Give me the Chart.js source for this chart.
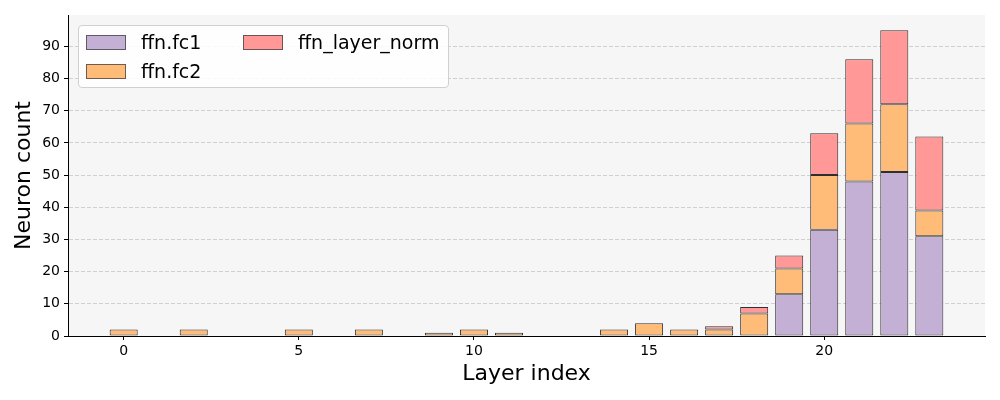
<!DOCTYPE html>
<html lang="en">
    <head>
        <meta charset="UTF-8" />
        <title>Neuron count per layer</title>
        <script src="https://cdn.jsdelivr.net/npm/chart.js"></script>
        <style>
            body { margin: 0; background: #fff; }
            #wrap { position: relative; width: 1000px; height: 400px; }
            #legend {
                position: absolute; left: 78px; top: 25px; width: 369px; height: 61px;
                background: rgba(255, 255, 255, 0.85); border: 1px solid #d0d0d0; border-radius: 4px;
                font-family: "DejaVu Sans", sans-serif; font-size: 19px; color: #000;
            }
            .item { position: absolute; white-space: nowrap; line-height: 22px; }
            .sw { position: absolute; width: 38px; height: 13px; border: 1px solid rgba(60, 60, 60, 0.75); }
        </style>
    </head>
    <body>
        <div id="wrap">
            <canvas id="myChart" width="1000" height="400"></canvas>
            <div id="legend"></div>
        </div>
        <script>
            const layers = [0, 1, 2, 3, 4, 5, 6, 7, 8, 9, 10, 11, 12, 13, 14, 15, 16, 17, 18, 19, 20, 21, 22, 23];
            const fc1 = [0, 0, 0, 0, 0, 0, 0, 0, 0, 0, 0, 0, 0, 0, 0, 0, 0, 0, 0, 13, 33, 48, 51, 31];
            const fc2 = [2, 0, 2, 0, 0, 2, 0, 2, 0, 1, 2, 1, 0, 0, 2, 4, 2, 2, 7, 8, 17, 18, 21, 8];
            const layerNorm = [0, 0, 0, 0, 0, 0, 0, 0, 0, 0, 0, 0, 0, 0, 0, 0, 0, 1, 2, 4, 13, 20, 23, 23];
            const xTicks = [0, 5, 10, 15, 20];
            const yTicks = [0, 10, 20, 30, 40, 50, 60, 70, 80, 90];

            const seriesNames = ["ffn.fc1", "ffn.fc2", "ffn_layer_norm"];
            const seriesColors = ["#c5b0d5", "#ffbb78", "#ff9896"];
            const edge = "rgba(25, 25, 25, 0.9)";
            const font = "'DejaVu Sans', sans-serif";

            function toPoints(values) {
                // zero-height bars are not drawn
                return layers.map((l, i) => ({ x: l, y: values[i] ? values[i] : null }));
            }

            const datasets = [fc1, fc2, layerNorm].map((vals, i) => ({
                label: seriesNames[i],
                data: toPoints(vals),
                backgroundColor: seriesColors[i],
                borderColor: edge,
                borderWidth: 1,
                borderSkipped: false,
                barPercentage: 1,
                categoryPercentage: 0.8,
            }));

            const plotBg = {
                id: "plotBg",
                beforeDraw(chart) {
                    const a = chart.chartArea;
                    const ctx = chart.ctx;
                    ctx.save();
                    ctx.fillStyle = "#f6f6f6";
                    ctx.fillRect(a.left, a.top, a.right - a.left, a.bottom - a.top);
                    ctx.restore();
                },
            };

            const config = {
                type: "bar",
                data: { datasets: datasets },
                plugins: [plotBg],
                options: {
                    responsive: false,
                    animation: false,
                    layout: { padding: { top: 15, right: 15, left: 0, bottom: 0 } },
                    plugins: { legend: { display: false }, tooltip: { enabled: false } },
                    scales: {
                        x: {
                            type: "linear",
                            stacked: true,
                            min: -1.59,
                            max: 24.59,
                            offset: false,
                            afterBuildTicks(scale) {
                                scale.ticks = xTicks.map((v) => ({ value: v }));
                            },
                            afterFit(scale) { scale.height = 64; },
                            grid: { offset: false, drawOnChartArea: false, tickColor: "#000", tickLength: 4, tickWidth: 1 },
                            border: { color: "#000", width: 1 },
                            ticks: { color: "#000", font: { family: font, size: 14 }, padding: 3, maxRotation: 0 },
                            title: {
                                display: true, text: "Layer index", color: "#000",
                                font: { family: font, size: 22 }, padding: { top: 0, bottom: 13 },
                            },
                        },
                        y: {
                            stacked: true,
                            min: 0,
                            max: 99.75,
                            afterBuildTicks(scale) {
                                scale.ticks = yTicks.map((v) => ({ value: v }));
                            },
                            afterFit(scale) { scale.width = 68; },
                            grid: {
                                color: "rgba(185, 185, 185, 0.75)", lineWidth: 0.8,
                                tickColor: "#000", tickLength: 4, tickWidth: 1, tickBorderDash: [],
                            },
                            border: { color: "#000", width: 1, dash: [4, 2] },
                            ticks: { color: "#000", font: { family: font, size: 14 }, padding: 4 },
                            title: {
                                display: true, text: "Neuron count", color: "#000",
                                font: { family: font, size: 22 }, padding: { top: 11, bottom: 0 },
                            },
                        },
                    },
                },
            };

            function buildLegend() {
                const box = document.getElementById("legend");
                const spots = [[7, 8], [7, 37], [164, 8]];
                seriesNames.forEach((name, i) => {
                    const sw = document.createElement("div");
                    sw.className = "sw";
                    sw.style.left = spots[i][0] + "px";
                    sw.style.top = spots[i][1] + 1 + "px";
                    sw.style.background = seriesColors[i];
                    box.appendChild(sw);
                    const t = document.createElement("div");
                    t.className = "item";
                    t.style.left = spots[i][0] + 55 + "px";
                    t.style.top = spots[i][1] - 3 + "px";
                    t.textContent = name;
                    box.appendChild(t);
                });
            }

            const ctx = document.getElementById("myChart").getContext("2d");
            const myChart = new Chart(ctx, config);
            buildLegend();
        </script>
    </body>
</html>
